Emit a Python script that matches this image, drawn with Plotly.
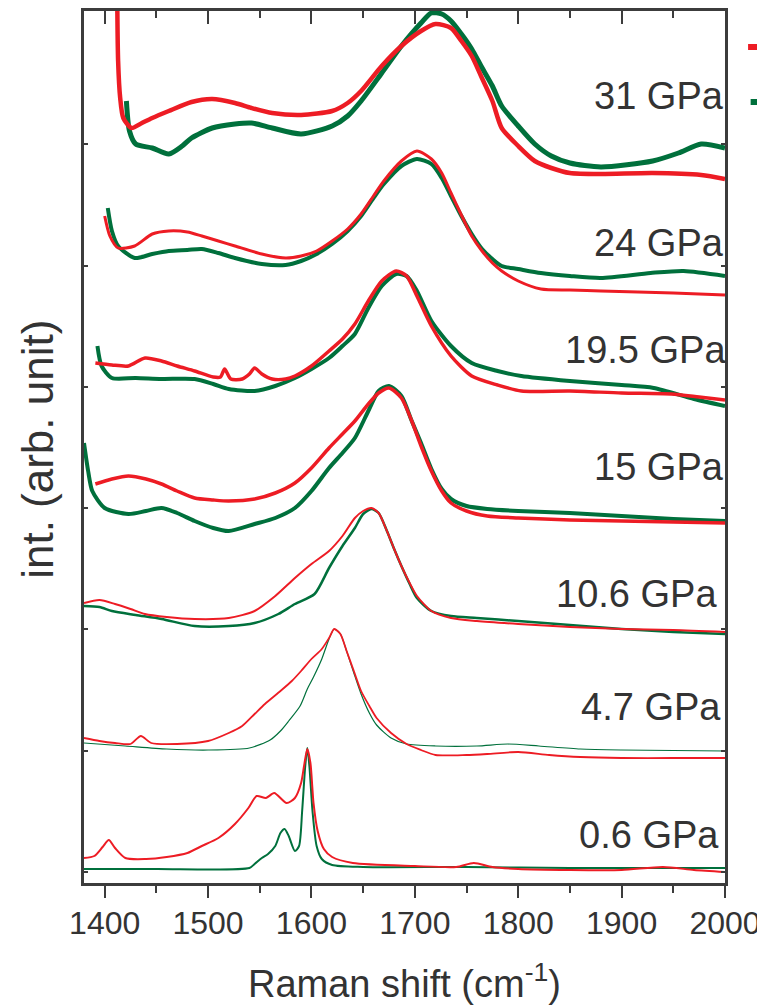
import plotly.graph_objects as go

# Raman spectra at several pressures, offset for clarity.
# x: Raman shift (cm-1), y: offset intensity (arb. unit)

x_06_red = [1380, 1390, 1398, 1404, 1410, 1420, 1440, 1460, 1480, 1494, 1510, 1526, 1539, 1547, 1556, 1564, 1576, 1584,
            1590, 1593, 1596, 1599, 1602, 1606, 1612, 1620, 1640, 1700, 1740, 1757, 1775, 1800, 1850, 1900, 1940, 1970, 2000]
y_06_red = [25, 27, 36, 43, 35, 25, 24, 26, 30, 37, 45, 59, 75, 87, 85, 90, 80, 85,
            100, 118, 134, 120, 80, 52, 34, 26, 20, 17, 16, 20, 16, 14, 13, 13, 16, 13, 11]
x_06_green = [1380, 1450, 1540, 1545, 1552, 1558, 1565, 1570, 1574, 1578, 1584, 1588, 1591, 1594, 1596, 1598, 1601,
              1605, 1610, 1620, 1650, 1750, 1850, 2000]
y_06_green = [14, 14, 15, 19, 25, 29, 37, 50, 54, 47, 32, 37, 72, 117, 135, 117, 72,
              37, 24, 18, 16, 16, 15, 15]

x_47_red = [1380, 1395, 1410, 1425, 1435, 1445, 1470, 1500, 1520, 1533, 1545, 1555, 1570, 1581, 1590, 1600, 1610, 1617,
            1622, 1628, 1634, 1641, 1648, 1656, 1663, 1677, 1692, 1706, 1720, 1750, 1770, 1800, 1830, 1860, 1900, 1950, 2000]
y_47_red = [145, 142, 140, 139, 147, 140, 139, 142, 150, 157, 169, 179, 192, 202, 212, 224, 234, 245,
            254, 249, 232, 212, 192, 177, 165, 150, 139, 133, 128, 128, 129, 131, 128, 126, 125, 125, 125]
x_47_green = [1380, 1420, 1460, 1500, 1540, 1560, 1570, 1578, 1589, 1596, 1602, 1610, 1617, 1622, 1628, 1634, 1641,
              1648, 1656, 1663, 1677, 1692, 1720, 1760, 1790, 1820, 1860, 1900, 2000]
y_47_green = [140, 137, 134, 133, 135, 143, 152, 162, 177, 194, 206, 224, 244, 254, 249, 232, 210,
              189, 170, 158, 145, 139, 137, 137, 139, 137, 134, 133, 132]

x_106_red = [1380, 1395, 1410, 1425, 1439, 1460, 1487, 1520, 1545, 1565, 1584, 1600, 1617, 1630, 1642, 1650, 1658,
             1665, 1673, 1680, 1687, 1695, 1702, 1716, 1735, 1760, 1800, 1850, 1900, 1950, 2000]
y_106_red = [280, 283, 279, 274, 269, 266, 264, 265, 272, 287, 305, 319, 332, 347, 365, 372, 375,
             370, 352, 334, 317, 300, 287, 272, 265, 262, 259, 256, 254, 253, 251]
x_106_green = [1380, 1395, 1407, 1430, 1455, 1487, 1520, 1545, 1568, 1584, 1603, 1617, 1630, 1642, 1650, 1658, 1665,
               1673, 1680, 1687, 1695, 1702, 1716, 1735, 1760, 1800, 1850, 1900, 1950, 2000]
y_106_green = [277, 276, 272, 268, 264, 257, 257, 260, 269, 279, 289, 315, 337, 355, 369, 374, 370,
               352, 334, 317, 299, 285, 272, 267, 265, 262, 258, 254, 251, 249]

x_15_red = [1391, 1407, 1423, 1440, 1455, 1470, 1487, 1505, 1520, 1545, 1565, 1584, 1600, 1617, 1630, 1642, 1655,
            1665, 1675, 1687, 1697, 1706, 1716, 1726, 1735, 1750, 1770, 1800, 1850, 1900, 1950, 2000]
y_15_red = [399, 404, 407, 404, 399, 392, 385, 383, 382, 384, 390, 400, 415, 435, 449, 462, 479,
            490, 495, 485, 462, 437, 412, 392, 380, 372, 367, 365, 363, 362, 361, 360]
x_15_green = [1380, 1384, 1388, 1400, 1423, 1440, 1455, 1470, 1487, 1505, 1520, 1545, 1565, 1584, 1600, 1617, 1630,
              1642, 1655, 1665, 1675, 1687, 1697, 1706, 1716, 1726, 1735, 1750, 1770, 1800, 1850, 1900, 1950, 2000]
y_15_green = [440, 412, 392, 375, 369, 372, 375, 370, 362, 355, 352, 359, 365, 375, 392, 415, 430,
              445, 472, 492, 497, 487, 462, 440, 414, 394, 384, 377, 374, 372, 370, 367, 364, 362]

x_195_red = [1391, 1407, 1423, 1439, 1455, 1470, 1487, 1505, 1512, 1516, 1522, 1533, 1540, 1545, 1552, 1562, 1575,
             1584, 1600, 1617, 1630, 1642, 1655, 1668, 1682, 1692, 1702, 1716, 1735, 1755, 1780, 1803, 1850, 1900,
             1948, 1975, 2000]
y_195_red = [520, 518, 517, 525, 522, 517, 512, 506, 506, 514, 504, 504, 509, 515, 509, 504, 504,
             507, 517, 532, 544, 559, 582, 602, 612, 607, 587, 557, 527, 507, 498, 492, 492, 490,
             489, 486, 483]
x_195_green = [1393, 1397, 1407, 1430, 1455, 1487, 1505, 1520, 1545, 1565, 1584, 1600, 1617, 1630, 1642, 1655, 1668,
               1682, 1692, 1702, 1716, 1735, 1755, 1780, 1803, 1850, 1900, 1931, 1970, 2000]
y_195_green = [537, 517, 505, 505, 504, 504, 499, 494, 492, 497, 505, 514, 525, 537, 549, 575, 597,
               609, 607, 592, 562, 537, 520, 512, 507, 502, 498, 495, 484, 477]

x_24_red = [1400, 1405, 1413, 1429, 1446, 1462, 1480, 1494, 1510, 1526, 1552, 1575, 1590, 1605, 1620, 1635, 1648,
            1660, 1670, 1687, 1702, 1716, 1726, 1735, 1745, 1755, 1765, 1775, 1784, 1800, 1822, 1850, 1880, 1950, 2000]
y_24_red = [667, 647, 635, 637, 649, 652, 651, 647, 642, 637, 629, 625, 627, 632, 642, 654, 669,
            687, 702, 722, 732, 724, 710, 690, 668, 647, 632, 620, 612, 602, 594, 593, 592, 590, 588]
x_24_green = [1403, 1407, 1413, 1429, 1446, 1462, 1480, 1494, 1510, 1526, 1552, 1575, 1590, 1605, 1620, 1635, 1648,
              1660, 1670, 1687, 1702, 1716, 1726, 1735, 1745, 1755, 1765, 1775, 1784, 1800, 1822, 1850, 1880, 1928,
              1960, 2000]
y_24_green = [675, 652, 637, 625, 629, 632, 633, 634, 630, 625, 619, 618, 622, 629, 639, 652, 667,
              685, 699, 717, 724, 719, 705, 687, 667, 649, 634, 624, 617, 614, 610, 607, 605, 610,
              612, 607]

x_31_red = [1412, 1413, 1415, 1418, 1426, 1436, 1446, 1462, 1484, 1504, 1526, 1542, 1562, 1590, 1620, 1635, 1648,
            1668, 1687, 1706, 1720, 1735, 1745, 1755, 1764, 1775, 1784, 1800, 1816, 1832, 1850, 1880, 1930, 1977, 2000]
y_31_red = [902, 822, 785, 765, 755, 760, 765, 772, 781, 784, 780, 775, 770, 768, 772, 780, 792,
            817, 837, 852, 859, 855, 842, 827, 807, 782, 755, 737, 722, 715, 710, 709, 710, 708, 704]
x_31_green = [1421, 1424, 1430, 1446, 1462, 1475, 1484, 1504, 1526, 1542, 1562, 1590, 1620, 1635, 1648, 1668, 1687,
              1706, 1716, 1726, 1735, 1745, 1755, 1764, 1775, 1784, 1800, 1816, 1832, 1850, 1880, 1930, 1955, 1977,
              2000]
y_31_green = [782, 752, 739, 735, 729, 737, 745, 755, 759, 760, 755, 749, 757, 767, 782, 810, 837,
              860, 870, 869, 862, 849, 834, 817, 797, 777, 757, 739, 727, 720, 716, 722, 730, 739,
              735]

pressure_labels = ["0.6 GPa", "4.7 GPa", "10.6 GPa", "15 GPa", "19.5 GPa", "24 GPa", "31 GPa"]

RED = "#ED1C24"
GREEN = "#00703C"
TEXT = "#333333"
AXIS = "#3c3c3c"
FONT = "Liberation Sans, Arial, sans-serif"

# (red x, red y, green x, green y) per pressure, bottom to top
spectra = [
    (x_06_red, y_06_red, x_06_green, y_06_green),
    (x_47_red, y_47_red, x_47_green, y_47_green),
    (x_106_red, y_106_red, x_106_green, y_106_green),
    (x_15_red, y_15_red, x_15_green, y_15_green),
    (x_195_red, y_195_red, x_195_green, y_195_green),
    (x_24_red, y_24_red, x_24_green, y_24_green),
    (x_31_red, y_31_red, x_31_green, y_31_green),
]
# line widths stand in for the noise band of each measured trace
red_widths = [2, 1.8, 2, 3.5, 3.5, 3, 4.5]
green_widths = [2, 1.2, 2.5, 4, 4, 4, 5]
label_y = [48, 176, 289, 416, 533, 640, 787]
label_dx = [-4, -2, -6, 1, 3, 1, 1]

fig = go.Figure()

for (xr, yr, xg, yg), wr, wg in zip(spectra, red_widths, green_widths):
    fig.add_trace(go.Scatter(x=xg, y=yg, mode="lines", showlegend=False,
                             line=dict(color=GREEN, width=wg, shape="spline", smoothing=0.7)))
    fig.add_trace(go.Scatter(x=xr, y=yr, mode="lines", showlegend=False,
                             line=dict(color=RED, width=wr, shape="spline", smoothing=0.7)))

# invisible trace so the top axis (inward ticks) is drawn
fig.add_trace(go.Scatter(x=[1380, 2000], y=[0, 0], xaxis="x2", mode="markers",
                         marker=dict(size=1, opacity=0), showlegend=False, hoverinfo="skip"))

for text, dx, ly in zip(pressure_labels, label_dx, label_y):
    fig.add_annotation(x=2000, y=ly, xref="x", yref="y", text=text, showarrow=False,
                       xanchor="right", yanchor="middle", xshift=dx,
                       font=dict(family=FONT, size=38, color=TEXT))

# axis titles
fig.add_annotation(x=0.5, y=-0.112, xref="paper", yref="paper",
                   text="Raman shift (cm<sup>-1</sup>)", showarrow=False,
                   xanchor="center", yanchor="middle",
                   font=dict(family=FONT, size=38, color=TEXT))
fig.add_annotation(x=-0.073, y=0.497, xref="paper", yref="paper",
                   text="int. (arb. unit)", showarrow=False, textangle=-90,
                   xanchor="center", yanchor="middle",
                   font=dict(family=FONT, size=44, color=TEXT))

# legend samples, cut off at the right edge as in the original
fig.add_shape(type="line", xref="paper", yref="paper", x0=1.036, x1=1.09, y0=0.9587, y1=0.9587,
              line=dict(color=RED, width=6))
fig.add_shape(type="line", xref="paper", yref="paper", x0=1.04, x1=1.09, y0=0.8956, y1=0.8956,
              line=dict(color=GREEN, width=6))

# the page body adds a small offset, so the margins are shifted to compensate
fig.update_layout(
    width=765, height=1005,
    margin=dict(l=76, r=48, t=3, b=130, autoexpand=False),
    paper_bgcolor="white", plot_bgcolor="white",
    font=dict(family=FONT, color=TEXT),
    xaxis=dict(
        range=[1380, 2000], tickmode="array", tickvals=[1400, 1500, 1600, 1700, 1800, 1900, 2000],
        ticks="outside", ticklen=12, tickwidth=2, tickcolor=AXIS,
        minor=dict(tickvals=[1450, 1550, 1650, 1750, 1850, 1950], ticks="outside", ticklen=7,
                   tickwidth=2, tickcolor=AXIS),
        showline=True, linecolor=AXIS, linewidth=2.5, automargin=False,
        showgrid=False, zeroline=False, ticklabelstandoff=-2,
        tickfont=dict(family=FONT, size=32, color=TEXT),
    ),
    xaxis2=dict(
        range=[1380, 2000], overlaying="x", side="top", anchor="y",
        tickmode="array", tickvals=[1400, 1500, 1600, 1700, 1800, 1900, 2000],
        ticks="inside", ticklen=13, tickwidth=2, tickcolor=AXIS,
        minor=dict(tickvals=[1450, 1550, 1650, 1750, 1850, 1950], ticks="inside", ticklen=7,
                   tickwidth=2, tickcolor=AXIS),
        showline=True, linecolor=AXIS, linewidth=2.5, automargin=False,
        showticklabels=False, showgrid=False, zeroline=False,
    ),
    yaxis=dict(
        range=[0, 872], tickmode="array", tickvals=[11, 132, 254, 375, 496, 617, 739],
        ticks="inside", ticklen=4, tickwidth=2, tickcolor=AXIS,
        showticklabels=False, showline=True, mirror="ticks", automargin=False,
        linecolor=AXIS, linewidth=2.5, showgrid=False, zeroline=False,
    ),
)

fig.write_html("out.html")
